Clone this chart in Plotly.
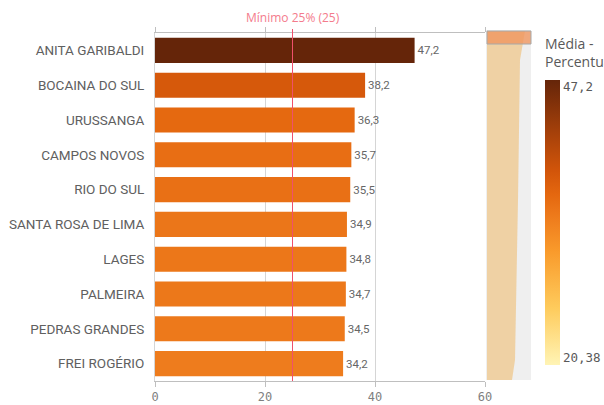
import plotly.graph_objects as go

cities = ["ANITA GARIBALDI", "BOCAINA DO SUL", "URUSSANGA", "CAMPOS NOVOS", "RIO DO SUL",
          "SANTA ROSA DE LIMA", "LAGES", "PALMEIRA", "PEDRAS GRANDES", "FREI ROGÉRIO"]
values = [47.2, 38.2, 36.3, 35.7, 35.5, 34.9, 34.8, 34.7, 34.5, 34.2]
x_ticks = [0, 20, 40, 60]
color_min = 20.38
color_max = 47.2
legend_ticktext = ["47,2", "20,38"]
ref_value = 25
ref_label = "Mínimo 25% (25)"
legend_title = "Média -<br>Percentual"

W, H = 604, 405
L, R, T, B = 155, 119, 33, 24

def px(x):
    return (x - L) / (W - L - R)

def py(y):
    return (H - B - y) / (H - T - B)

colorscale = [
    [0.0, "#FFF4B5"], [0.2, "#FECB5C"], [0.4, "#F99A2B"], [0.52, "#EE7B1C"],
    [0.6, "#E4670F"], [0.68, "#D2550A"], [0.82, "#A4400A"], [1.0, "#652509"],
]

# legend labels sit slightly inside the ends of the colour bar, as in the reference
inset = (color_max - color_min) * 7 / 285

fig = go.Figure()
fig.add_trace(go.Bar(
    y=cities, x=values, orientation="h",
    marker=dict(color=values, colorscale=colorscale, cmin=color_min, cmax=color_max,
                line=dict(width=0),
                colorbar=dict(x=px(545), xanchor="left", xref="paper", xpad=0, ypad=0,
                              y=py(80), yanchor="top", len=285 / (H - T - B),
                              thickness=15, outlinewidth=0, ticks="",
                              tickvals=[color_max - inset, color_min + inset],
                              ticktext=legend_ticktext,
                              tickfont=dict(family="DejaVu Sans Mono", size=12.5, color="#595959"))),
    texttemplate="%{x:.1f}", textposition="outside", cliponaxis=False,
    textfont=dict(family="Roboto", size=11.5, color="#666666"),
    hoverinfo="skip",
))

shapes = []
# minimap background
shapes.append(dict(type="rect", xref="paper", yref="paper", x0=px(486), x1=px(531),
                   y0=py(380), y1=py(30), fillcolor="#EFEFEF", line=dict(width=0), layer="below"))
shapes.append(dict(type="path", xref="paper", yref="paper",
                   path=f"M {px(487)},{py(31)} L {px(525)},{py(31)} L {px(520)},{py(60)} "
                        f"L {px(518)},{py(200)} L {px(515)},{py(360)} L {px(512)},{py(380)} "
                        f"L {px(487)},{py(380)} Z",
                   fillcolor="#EECB96", opacity=0.85, line=dict(width=0)))
shapes.append(dict(type="rect", xref="paper", yref="paper", x0=px(487), x1=px(531),
                   y0=py(44), y1=py(31), fillcolor="rgba(240,150,95,0.8)",
                   line=dict(color="#A8A8A8", width=1)))
# reference line
shapes.append(dict(type="line", xref="x", yref="paper", x0=ref_value, x1=ref_value,
                   y0=0, y1=py(29), line=dict(color="#F0506A", width=1)))

fig.update_layout(
    width=W, height=H, margin=dict(l=L, r=R, t=T, b=B, autoexpand=False),
    paper_bgcolor="white", plot_bgcolor="white",
    separators=",.", showlegend=False, bargap=0.28,
    font=dict(family="Roboto", color="#595959"),
    shapes=shapes,
    annotations=[
        dict(text=ref_label, x=ref_value, xref="x", y=py(17), yref="paper",
             yanchor="middle", showarrow=False,
             font=dict(family="Open Sans", size=12, color="#F47B8C")),
        dict(text=legend_title, x=px(543), xref="paper", y=py(32), yref="paper",
             xanchor="left", yanchor="top", align="left", showarrow=False,
             font=dict(family="Open Sans", size=14, color="#595959")),
    ],
    xaxis=dict(range=[0, 60], tickvals=x_ticks, showgrid=True, gridcolor="#D5D5D5",
               showline=True, linecolor="#BFBFBF", mirror="ticks", ticks="outside",
               ticklen=5, tickcolor="#BFBFBF", zeroline=False,
               tickfont=dict(family="DejaVu Sans Mono", size=12, color="#7F7F7F")),
    yaxis=dict(autorange="reversed", showline=True, linecolor="#D5D5D5",
               ticks="", ticklabelstandoff=7,
               tickfont=dict(family="Roboto", size=13.5, color="#606060")),
)

fig.write_html("out.html", config={"displayModeBar": False},
               post_script="document.body.style.margin='0px';document.body.style.padding='0px';")
